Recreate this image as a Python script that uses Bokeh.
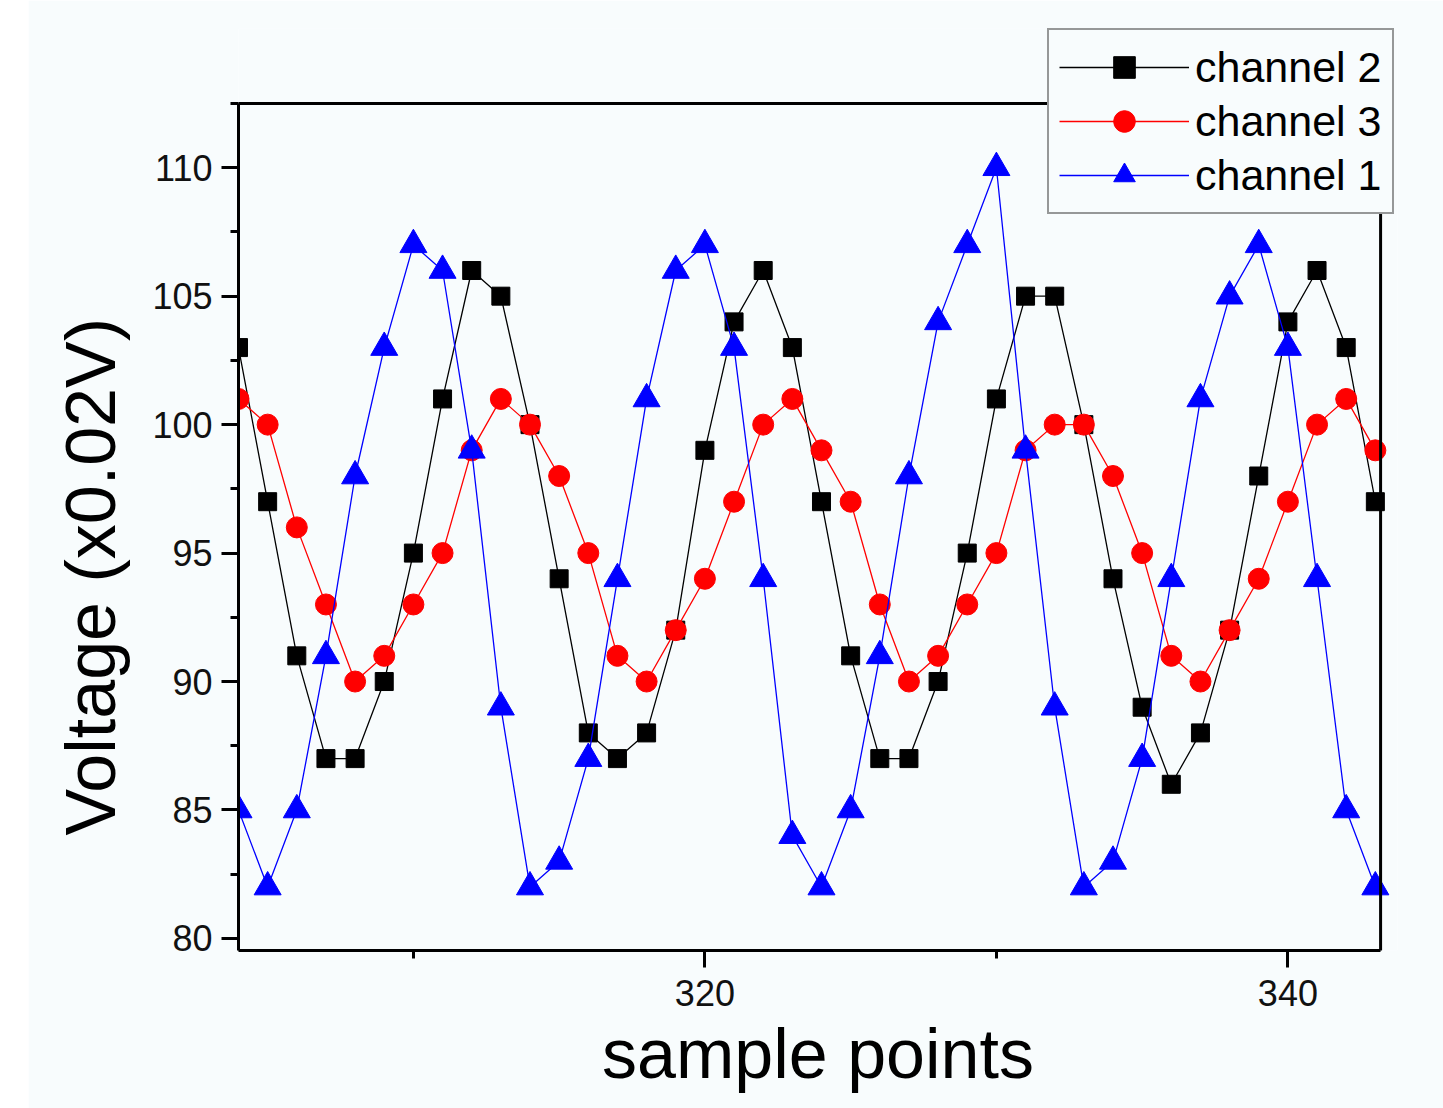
from bokeh.plotting import figure
from bokeh.models import (ColumnDataSource, Range1d, FixedTicker, Legend, LegendItem, Spacer,
                          BoxAnnotation, Title)
from bokeh.layouts import row
from bokeh.embed import file_html
from bokeh.resources import INLINE

# ---- data ----
samples = list(range(304, 344))
channel2 = [103, 97, 91, 87, 87, 90, 95, 101, 106, 105, 100, 94, 88, 87, 88, 92, 99, 104, 106, 103,
            97, 91, 87, 87, 90, 95, 101, 105, 105, 100, 94, 89, 86, 88, 92, 98, 104, 106, 103, 97]
channel3 = [101, 100, 96, 93, 90, 91, 93, 95, 99, 101, 100, 98, 95, 91, 90, 92, 94, 97, 100, 101,
            99, 97, 93, 90, 91, 93, 95, 99, 100, 100, 98, 95, 91, 90, 92, 94, 97, 100, 101, 99]
channel1 = [85, 82, 85, 91, 98, 103, 107, 106, 99, 89, 82, 83, 87, 94, 101, 106, 107, 103, 94, 84,
            82, 85, 91, 98, 104, 107, 110, 99, 89, 82, 83, 87, 94, 101, 105, 107, 103, 94, 85, 82]

x_major = [320, 340]
x_minor = [310, 330]
y_major = [80, 85, 90, 95, 100, 105, 110]
y_minor = [82.5, 87.5, 92.5, 97.5, 102.5, 107.5, 112.5]

x_label = "sample points"
y_label = "Voltage (x0.02V)"
names = ["channel 2", "channel 3", "channel 1"]

# axis box (data limits) and the extra room kept for the legend above/right of it
X0, X1, XR = 304.0, 343.18, 343.76
Y0, Y1, YR = 79.53, 112.5, 115.42

BG = "#f8fcfd"
FONT = "Liberation Sans"

src = ColumnDataSource(dict(x=samples, c2=channel2, c3=channel3, c1=channel1))

p = figure(width=1415, height=1108, output_backend="svg", toolbar_location=None,
           x_range=Range1d(X0, XR), y_range=Range1d(Y0, YR),
           min_border_left=210, min_border_right=46, min_border_top=28, min_border_bottom=158)
p.background_fill_color = BG
p.border_fill_color = BG
p.outline_line_color = None
p.xgrid.visible = False
p.ygrid.visible = False

l2 = p.line("x", "c2", source=src, line_color="black", line_width=1.3)
m2 = p.scatter("x", "c2", source=src, marker="square", size=18, fill_color="black", line_color="black")
l3 = p.line("x", "c3", source=src, line_color="red", line_width=1.3)
m3 = p.scatter("x", "c3", source=src, marker="circle", size=21, fill_color="red", line_color="red")
l1 = p.line("x", "c1", source=src, line_color="blue", line_width=1.3)
m1 = p.scatter("x", "c1", source=src, marker="triangle", size=27, fill_color="blue", line_color="blue")

# box around the data area
p.add_layout(BoxAnnotation(left=X0, right=X1, bottom=Y0, top=Y1, fill_alpha=0,
                           line_color="black", line_width=3, line_alpha=1))

p.xaxis.ticker = FixedTicker(ticks=x_major, minor_ticks=x_minor)
p.yaxis.ticker = FixedTicker(ticks=y_major, minor_ticks=y_minor)
p.xaxis.bounds = (X0, X1)
p.yaxis.bounds = (Y0, Y1)

for ax in (p.xaxis[0], p.yaxis[0]):
    ax.axis_line_width = 3
    ax.axis_line_color = "black"
    ax.major_tick_line_width = 3
    ax.minor_tick_line_width = 3
    ax.major_tick_in = 0
    ax.major_tick_out = 17
    ax.minor_tick_in = 0
    ax.minor_tick_out = 8
    ax.major_label_text_font = FONT
    ax.major_label_text_font_size = "36px"
    ax.major_label_text_color = "#111111"
    ax.axis_label_text_font = FONT
    ax.axis_label_text_font_size = "70px"
    ax.axis_label_text_font_style = "normal"
    ax.axis_label_text_color = "black"

p.xaxis.axis_label = x_label
p.xaxis.major_label_standoff = 12
p.yaxis.major_label_standoff = 9
p.xaxis.axis_label_standoff = 6

# y-axis title, anchored at the bottom of the axis box like the original
ytitle = Title(text=y_label, align="left", offset=115, standoff=40,
               text_font=FONT, text_font_size="70px", text_font_style="normal",
               text_color="black")
p.add_layout(ytitle, "left")

legend = Legend(items=[LegendItem(label=names[0], renderers=[l2, m2]),
                       LegendItem(label=names[1], renderers=[l3, m3]),
                       LegendItem(label=names[2], renderers=[l1, m1])],
                location=(809, 736))
legend.label_text_font = FONT
legend.label_text_font_size = "43px"
legend.label_text_color = "black"
legend.glyph_width = 130
legend.glyph_height = 54
legend.label_height = 54
legend.label_standoff = 6
legend.spacing = 0
legend.padding = 10
legend.margin = 0
legend.border_line_color = "#333333"
legend.border_line_width = 2
legend.background_fill_color = BG
legend.background_fill_alpha = 1.0
p.add_layout(legend, "center")

layout = row(Spacer(width=28, height=1108), p)
open("out.html", "w").write(file_html(layout, INLINE))
